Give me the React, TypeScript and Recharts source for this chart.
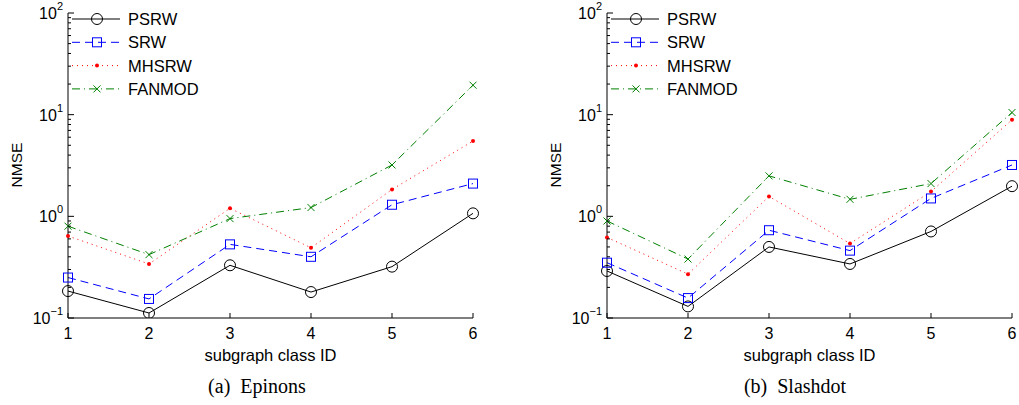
import React from "react";
import { LineChart, Line, XAxis, YAxis } from "recharts";

// subgraph class IDs on the x axis
const classIds = [1, 2, 3, 4, 5, 6];
const seriesNames = ["PSRW", "SRW", "MHSRW", "FANMOD"];

// (a) Epinons
const epinonsPSRW = [0.184, 0.112, 0.33, 0.18, 0.32, 1.07];
const epinonsSRW = [0.25, 0.154, 0.53, 0.4, 1.3, 2.1];
const epinonsMHSRW = [0.64, 0.34, 1.2, 0.49, 1.84, 5.5];
const epinonsFANMOD = [0.8, 0.42, 0.95, 1.22, 3.2, 19.5];

// (b) Slashdot
const slashdotPSRW = [0.29, 0.13, 0.5, 0.34, 0.71, 1.98];
const slashdotSRW = [0.35, 0.157, 0.73, 0.46, 1.5, 3.2];
const slashdotMHSRW = [0.62, 0.27, 1.57, 0.54, 1.75, 8.9];
const slashdotFANMOD = [0.9, 0.38, 2.5, 1.47, 2.1, 10.5];

// log axis ticks (majors are labelled)
const yTicks = [
  0.1, 0.2, 0.3, 0.4, 0.5, 0.6, 0.7, 0.8, 0.9,
  1, 2, 3, 4, 5, 6, 7, 8, 9,
  10, 20, 30, 40, 50, 60, 70, 80, 90,
  100,
];
const yMajor: Record<string, string> = { "0.1": "\u22121", "1": "0", "10": "1", "100": "2" };

const SANS = "'Liberation Sans', Arial, Helvetica, sans-serif";
const SERIF = "'Liberation Serif', 'Times New Roman', serif";

const styles: Record<string, { color: string; dash?: string; marker: string }> = {
  PSRW: { color: "#000000", marker: "circle" },
  SRW: { color: "#0000ff", dash: "8 5", marker: "square" },
  MHSRW: { color: "#ff0000", dash: "1 4", marker: "dot" },
  FANMOD: { color: "#008000", dash: "8 4 1 4", marker: "cross" },
};

function Marker({ kind, cx, cy, color }: { kind: string; cx: number; cy: number; color: string }) {
  if (kind === "circle") return <circle cx={cx} cy={cy} r={5.5} fill="none" stroke={color} strokeWidth={1} />;
  if (kind === "square")
    return <rect x={cx - 4.5} y={cy - 4.5} width={9} height={9} fill="none" stroke={color} strokeWidth={1} />;
  if (kind === "dot") return <circle cx={cx} cy={cy} r={2} fill={color} stroke="none" />;
  return (
    <path
      d={`M${cx - 3.5},${cy - 3.5}L${cx + 3.5},${cy + 3.5}M${cx - 3.5},${cy + 3.5}L${cx + 3.5},${cy - 3.5}`}
      stroke={color}
      strokeWidth={1}
    />
  );
}

const YTick = (props: any) => {
  const { x, y, payload } = props;
  const exp = yMajor[String(payload.value)];
  const major = exp !== undefined;
  return (
    <g>
      <line x1={x} x2={x + (major ? 6 : 3)} y1={y} y2={y} stroke="#000" strokeWidth={1} />
      {major && (
        <text x={x - 5} y={y + 6} textAnchor="end" fontSize={16} fontFamily={SANS} fill="#000">
          10
          <tspan dy={-9} fontSize={11}>
            {exp}
          </tspan>
        </text>
      )}
    </g>
  );
};

const XTick = (props: any) => {
  const { x, y, payload } = props;
  return (
    <g>
      <line x1={x} x2={x} y1={y} y2={y - 5} stroke="#000" strokeWidth={1} />
      <text x={x} y={y + 21} textAnchor="middle" fontSize={16} fontFamily={SANS} fill="#000">
        {payload.value}
      </text>
    </g>
  );
};

type PanelProps = {
  left: number;
  width: number;
  marginRight: number;
  caption: string;
  captionX: number;
  series: number[][];
};

function Panel({ left, width, marginRight, caption, captionX, series }: PanelProps) {
  const data = classIds.map((id, i) => {
    const row: Record<string, number> = { id };
    seriesNames.forEach((name, s) => (row[name] = series[s][i]));
    return row;
  });
  const axisX = 68;
  const plotRight = width - marginRight;
  const plotMid = (axisX + plotRight) / 2;

  return (
    <div style={{ position: "absolute", left, top: 0, width, height: 405 }}>
      <LineChart width={width} height={405} data={data} margin={{ top: 13, right: marginRight, bottom: 57, left: 18 }}>
        <XAxis
          dataKey="id"
          type="number"
          domain={[1, 6]}
          ticks={classIds}
          interval={0}
          height={30}
          tickSize={0}
          tickMargin={0}
          tickLine={false}
          tick={<XTick />}
          axisLine={{ stroke: "#000", strokeWidth: 1 }}
        />
        <YAxis
          scale="log"
          domain={[0.1, 100]}
          allowDataOverflow
          ticks={yTicks}
          interval={0}
          width={50}
          tickSize={0}
          tickMargin={0}
          tickLine={false}
          tick={<YTick />}
          axisLine={{ stroke: "#000", strokeWidth: 1 }}
        />
        {seriesNames.map((name) => {
          const st = styles[name];
          return (
            <Line
              key={name}
              dataKey={name}
              stroke={st.color}
              strokeWidth={1}
              strokeDasharray={st.dash}
              isAnimationActive={false}
              type="linear"
              dot={(p: any) => <Marker key={`${name}-${p.index}`} kind={st.marker} cx={p.cx} cy={p.cy} color={st.color} />}
              activeDot={false}
            />
          );
        })}
      </LineChart>
      <svg width={width} height={405} style={{ position: "absolute", left: 0, top: 0, pointerEvents: "none" }}>
        {seriesNames.map((name, i) => {
          const st = styles[name];
          const y = 19 + i * 23.3;
          return (
            <g key={name}>
              <line x1={72} x2={120} y1={y} y2={y} stroke={st.color} strokeWidth={1} strokeDasharray={st.dash} />
              <Marker kind={st.marker} cx={97} cy={y} color={st.color} />
              <text x={128} y={y + 6} fontSize={16.5} fontFamily={SANS} fill="#000">
                {name}
              </text>
            </g>
          );
        })}
        <text
          transform={`translate(22,165) rotate(-90)`}
          textAnchor="middle"
          fontSize={15.5}
          fontFamily={SANS}
          fill="#000"
        >
          NMSE
        </text>
        <text x={plotMid} y={361} textAnchor="middle" fontSize={16.5} fontFamily={SANS} fill="#000">
          subgraph class ID
        </text>
        <text x={captionX} y={393} textAnchor="middle" fontSize={20} fontFamily={SERIF} fill="#000">
          {caption}
        </text>
      </svg>
    </div>
  );
}

export default function App() {
  return (
    <div style={{ position: "absolute", left: 0, top: 0, width: 1019, height: 405, background: "#fff", overflow: "hidden" }}>
      <Panel
        left={0}
        width={505}
        marginRight={32}
        caption={"(a)\u00a0 Epinons"}
        captionX={257}
        series={[epinonsPSRW, epinonsSRW, epinonsMHSRW, epinonsFANMOD]}
      />
      <Panel
        left={539}
        width={480}
        marginRight={7}
        caption={"(b)\u00a0 Slashdot"}
        captionX={256}
        series={[slashdotPSRW, slashdotSRW, slashdotMHSRW, slashdotFANMOD]}
      />
    </div>
  );
}
